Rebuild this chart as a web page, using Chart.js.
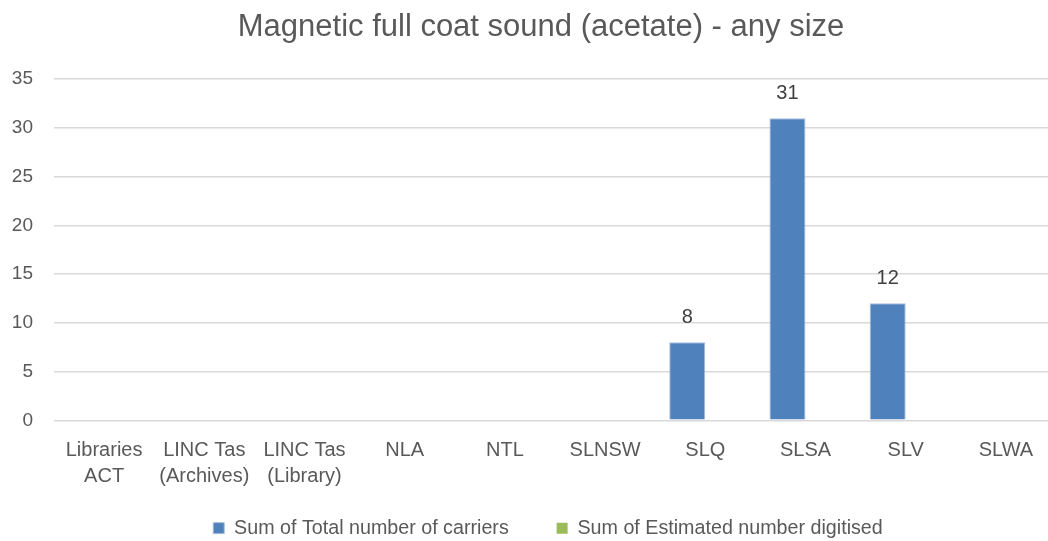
<!DOCTYPE html>
<html>
<head>
<meta charset="utf-8">
<script src="https://cdn.jsdelivr.net/npm/chart.js@4.4.1/dist/chart.umd.min.js"></script>
<style>
  html, body { margin: 0; padding: 0; background: #fff; overflow: hidden; }
  #wrap { position: absolute; left: 0; top: 0; width: 1090px; height: 541px; }
</style>
</head>
<body>
<div id="wrap"><canvas id="c"></canvas></div>
<script>
const titleText = 'Magnetic full coat sound (acetate) - any size';
const categories = [
  ['Libraries', 'ACT'], ['LINC Tas', '(Archives)'], ['LINC Tas', '(Library)'],
  'NLA', 'NTL', 'SLNSW', 'SLQ', 'SLSA', 'SLV', 'SLWA'
];
const seriesNames = ['Sum of Total number of carriers', 'Sum of Estimated number digitised'];
const totalCarriers = [null, null, null, null, null, null, 8, 31, 12, null];
const estimatedDigitised = [null, null, null, null, null, null, null, null, null, null];
const yTicks = [0, 5, 10, 15, 20, 25, 30, 35];

const FONT = '"Liberation Sans", Arial, sans-serif';
const TEXT = '#595959';
const GRID = '#D9D9D9';

const valueLabels = {
  id: 'valueLabels',
  afterDatasetsDraw(chart) {
    const ctx = chart.ctx;
    const meta = chart.getDatasetMeta(0);
    const data = chart.data.datasets[0].data;
    ctx.save();
    ctx.font = '20px ' + FONT;
    ctx.fillStyle = '#404040';
    ctx.textAlign = 'center';
    ctx.textBaseline = 'middle';
    meta.data.forEach((bar, i) => {
      if (data[i] === null || data[i] === undefined) return;
      ctx.fillText(String(data[i]), bar.x, bar.y - 25);
    });
    ctx.restore();
  }
};

// shift title and legend horizontally so they are centred like the original
const centreBoxes = {
  id: 'centreBoxes',
  afterLayout(chart) {
    const t = chart.titleBlock;
    if (t) { t.left += 13; t.right += 13; }
    const l = chart.legend;
    if (l) { l.left += 20; l.right += 20; }
  }
};

new Chart(document.getElementById('c'), {
  type: 'bar',
  data: {
    labels: categories,
    datasets: [
      { label: seriesNames[0], data: totalCarriers, backgroundColor: '#4F81BD', borderColor: '#A7C0DE', borderWidth: 1,
        categoryPercentage: 0.72, barPercentage: 1.0 },
      { label: seriesNames[1], data: estimatedDigitised, backgroundColor: '#9BBB59',
        categoryPercentage: 0.72, barPercentage: 1.0 }
    ]
  },
  options: {
    responsive: true,
    maintainAspectRatio: false,
    animation: false,
    layout: { padding: { left: 0, right: 34, top: 0, bottom: -7 } },
    plugins: {
      title: {
        display: true, text: titleText, color: TEXT,
        font: { family: FONT, size: 31, weight: 'normal' },
        padding: { top: 9, bottom: 33 }
      },
      legend: {
        position: 'bottom',
        labels: {
          color: TEXT, font: { family: FONT, size: 19.7 },
          boxWidth: 11, boxHeight: 11, padding: 26,
          useBorderRadius: false,
          generateLabels(chart) {
            const items = Chart.defaults.plugins.legend.labels.generateLabels(chart);
            if (items.length) items[0].text = items[0].text + '    ';
            return items;
          }
        }
      },
      tooltip: { enabled: false }
    },
    scales: {
      x: {
        grid: { display: false, drawTicks: false },
        border: { display: false },
        afterFit(scale) { scale.height = 72; },
        ticks: { color: TEXT, font: { family: FONT, size: 20, lineHeight: 1.3 }, padding: 17, maxRotation: 0, autoSkip: false }
      },
      y: {
        min: 0, max: 35,
        afterBuildTicks(scale) { scale.ticks = yTicks.map(v => ({ value: v })); },
        afterFit(scale) { scale.width = 54; },
        grid: { color: GRID, lineWidth: 1.5, drawTicks: false },
        border: { display: false },
        ticks: { color: TEXT, font: { family: FONT, size: 19 }, padding: 21 }
      }
    }
  },
  plugins: [valueLabels, centreBoxes]
});
</script>
</body>
</html>
